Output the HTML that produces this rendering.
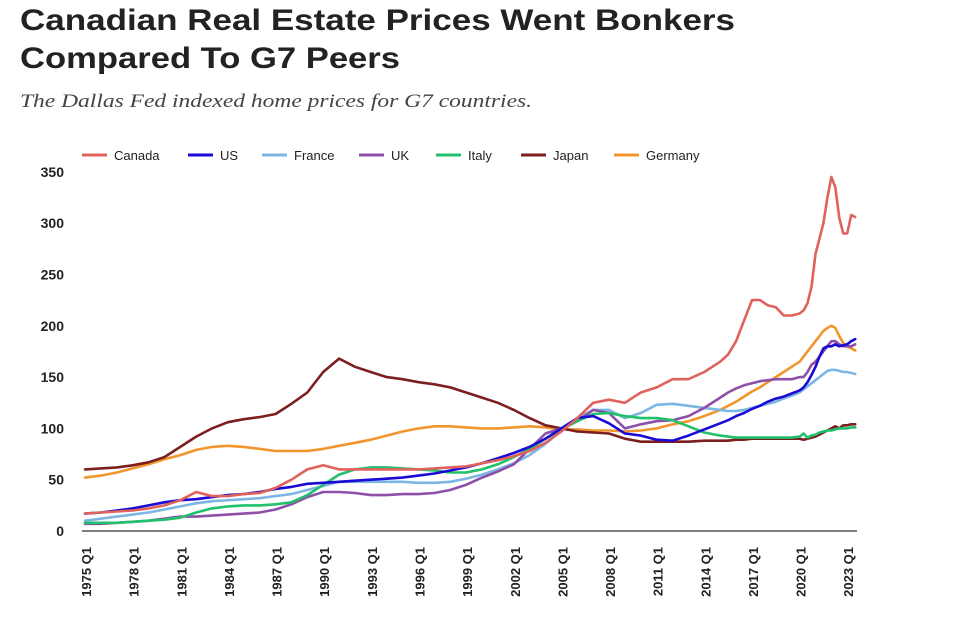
<!DOCTYPE html>
<html><head><meta charset="utf-8">
<style>
html,body{margin:0;padding:0;background:#fff;}
svg{display:block;}
</style></head>
<body>
<svg id="chart" width="957" height="633" viewBox="0 0 957 633" xmlns="http://www.w3.org/2000/svg">
  <text x="20" y="30" font-family="Liberation Sans, sans-serif" font-weight="bold" font-size="30" fill="#222" textLength="715" lengthAdjust="spacingAndGlyphs">Canadian Real Estate Prices Went Bonkers</text>
  <text x="20" y="68" font-family="Liberation Sans, sans-serif" font-weight="bold" font-size="30" fill="#222" textLength="380" lengthAdjust="spacingAndGlyphs">Compared To G7 Peers</text>
  <text x="20" y="107" font-family="Liberation Serif, serif" font-style="italic" font-size="19" fill="#444" textLength="512" lengthAdjust="spacingAndGlyphs">The Dallas Fed indexed home prices for G7 countries.</text>
  <g id="legend"></g>
  <g id="yaxis"></g>
  <g id="xaxis"></g>
  <g id="series"></g>
</svg>
<script>
const dates = [1975,1976,1977,1978,1979,1980,1981,1982,1983,1984,1985,1986,1987,1988,1989,1990,1991,1992,1993,1994,1995,1996,1997,1998,1999,2000,2001,2002,2003,2004,2005,2006,2007,2008,2009,2010,2011,2012,2013,2014,2015,
2015.5,2016,2016.5,2017,2017.5,2018,2018.5,2019,2019.5,
2020,2020.25,2020.5,2020.75,2021,2021.25,2021.5,2021.75,2022,2022.25,2022.5,2022.75,2023,2023.25,2023.5];
const canada = [17,18,19,20,22,25,30,38,34,34,36,37,42,50,60,64,60,60,60,60,60,60,61,62,63,66,69,73,78,86,97,110,125,128,125,135,140,148,148,155,165,
172,185,205,225,225,220,218,210,210,
212,215,222,238,270,285,300,325,345,335,305,290,290,308,306];
const us = [17,18,20,22,25,28,30,31,33,35,36,38,41,43,46,47,48,49,50,51,52,54,56,59,62,66,71,76,82,90,100,110,112,105,95,93,89,88,93,99,105,
108,112,115,119,122,126,129,131,134,
137,140,145,152,160,170,178,180,180,182,180,181,182,185,187];
const france = [10,12,14,16,18,21,24,27,29,30,31,32,34,36,40,44,48,48,48,48,48,47,47,48,51,55,60,66,74,85,98,110,118,118,110,115,123,124,122,120,118,
117,117,118,120,122,124,126,129,132,
135,138,141,144,147,150,153,156,157,157,156,155,155,154,153];
const uk = [7,7,8,9,10,12,14,14,15,16,17,18,21,26,33,38,38,37,35,35,36,36,37,40,45,52,58,65,80,95,100,107,118,115,100,104,107,108,112,120,130,
135,139,142,144,146,147,148,148,148,
150,150,155,162,165,170,175,180,185,185,182,180,180,180,182];
const italy = [8,8,8,9,10,11,13,18,22,24,25,25,26,28,35,45,55,60,62,62,61,60,59,57,57,60,65,72,80,90,99,107,114,115,112,110,110,108,102,96,93,
92,91,91,91,91,91,91,91,91,
92,95,91,93,94,96,97,98,98,99,100,100,100,101,101];
const japan = [60,61,62,64,67,72,82,92,100,106,109,111,114,124,135,155,168,160,155,150,148,145,143,140,135,130,125,118,110,103,100,97,96,95,90,87,87,87,87,88,88,
88,89,89,90,90,90,90,90,90,
90,89,90,91,92,94,96,98,100,102,100,103,103,104,104];
const germany = [52,54,57,61,65,70,74,79,82,83,82,80,78,78,78,80,83,86,89,93,97,100,102,102,101,100,100,101,102,101,99,99,98,98,97,98,100,104,107,112,118,
122,126,131,136,140,145,150,155,160,
165,170,175,180,185,190,195,198,200,198,190,183,180,178,176];
const seriesNames = ["Canada","US","France","UK","Italy","Japan","Germany"];
const yTicks = [0,50,100,150,200,250,300,350];
const xTickYears = [1975,1978,1981,1984,1987,1990,1993,1996,1999,2002,2005,2008,2011,2014,2017,2020,2023];

const NS = "http://www.w3.org/2000/svg";
const colors = ["#e0625c","#1a0ad6","#7db6e2","#8e4fa8","#20c06c","#7b1f1f","#f0962c"];
const allSeries = [canada,us,france,uk,italy,japan,germany];
function xScale(t){ return 85 + (t - 1975) * 15.88; }
function yScale(v){ return 531 - v * 1.026; }
function mk(tag, attrs){ const e = document.createElementNS(NS, tag); for (const k in attrs) e.setAttribute(k, attrs[k]); return e; }

const yaxis = document.getElementById('yaxis');
yTicks.forEach(v => {
  const t = mk('text', {x:64, y:yScale(v)+5, 'text-anchor':'end', 'font-family':'Liberation Sans, sans-serif', 'font-weight':'bold', 'font-size':'14', fill:'#222'});
  t.textContent = v;
  
  
  yaxis.appendChild(t);
});
const base = mk('line', {x1:82, x2:857, y1:531, y2:531, stroke:'#333', 'stroke-width':1.2});


yaxis.appendChild(base);

const xaxis = document.getElementById('xaxis');
xTickYears.forEach(yr => {
  const x = xScale(yr) + 6;
  const t = mk('text', {x:0, y:0, transform:`translate(${x},547) rotate(-90)`, 'text-anchor':'end', 'font-family':'Liberation Sans, sans-serif', 'font-weight':'bold', 'font-size':'13', fill:'#222'});
  t.textContent = yr + ' Q1';
  
  
  xaxis.appendChild(t);
});

const legend = document.getElementById('legend');
const legendX = [82,188,262,359,436,521,614];
seriesNames.forEach((n, i) => {
  const g = mk('g', {});
  
  
  g.appendChild(mk('line', {x1:legendX[i], x2:legendX[i]+25, y1:155, y2:155, stroke:colors[i], 'stroke-width':3}));
  const t = mk('text', {x:legendX[i]+32, y:160, 'font-family':'Liberation Sans, sans-serif', 'font-size':'13', fill:'#222'});
  t.textContent = n;
  g.appendChild(t);
  legend.appendChild(g);
});

const sg = document.getElementById('series');
[6,5,2,3,4,1,0].forEach(i => {
  const d = allSeries[i].map((v, j) => (j ? 'L' : 'M') + xScale(dates[j]).toFixed(1) + ',' + yScale(v).toFixed(1)).join(' ');
  const p = mk('path', {d:d, fill:'none', stroke:colors[i], 'stroke-width':2.6, 'stroke-linejoin':'round', 'stroke-linecap':'round'});
  
  
  sg.appendChild(p);
});
</script>
</body></html>
